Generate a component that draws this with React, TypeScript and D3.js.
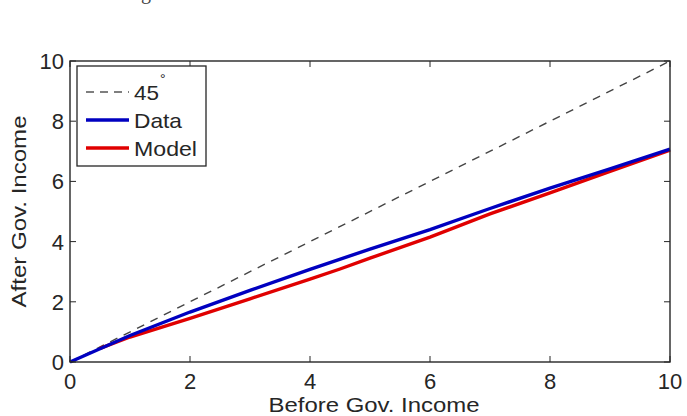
import React, { useEffect, useRef } from 'react';
import * as d3 from 'd3';

// Values
const dataX = [0, 1, 2, 3, 4, 5, 6, 7, 8, 9, 10];
const dataY = [0, 0.88, 1.66, 2.38, 3.08, 3.75, 4.4, 5.1, 5.78, 6.42, 7.07];
const modelX = [0.5, 1, 2, 3, 4, 4.5, 5, 6, 7, 8, 9, 10];
const modelY = [0.45, 0.83, 1.45, 2.1, 2.75, 3.09, 3.45, 4.15, 4.92, 5.62, 6.33, 7.04];
const diagX = [0, 10];
const xTicks = [0, 2, 4, 6, 8, 10];
const yTicks = [0, 2, 4, 6, 8, 10];
const legendItems = ['45', 'Data', 'Model'];

const App = () => {
    const ref = useRef<SVGSVGElement | null>(null);

    useEffect(() => {
        if (!ref.current) return;
        const svg = d3.select(ref.current);
        svg.selectAll('*').remove();

        const W = 687, H = 416;
        const left = 70, right = 670, top = 61, bottom = 362;
        const font = 'Liberation Sans, Arial, sans-serif';
        const ink = '#262626';

        const x = d3.scaleLinear().domain([0, 10]).range([left, right]);
        const y = d3.scaleLinear().domain([0, 10]).range([bottom, top]);

        svg.attr('width', W).attr('height', H);
        svg.append('rect').attr('width', W).attr('height', H).attr('fill', 'white');

        // clipped caption from the page above
        svg.append('text').attr('x', 141).attr('y', -1)
            .attr('font-family', 'Liberation Serif, serif').attr('font-size', 20)
            .attr('fill', '#444').text('g');

        const line = d3.line<[number, number]>().x(d => x(d[0])).y(d => y(d[1]));

        // 45 degree line
        svg.append('path')
            .datum(diagX.map(v => [v, v] as [number, number]))
            .attr('d', line).attr('fill', 'none')
            .attr('stroke', '#444').attr('stroke-width', 1.4).attr('stroke-dasharray', '8,7');

        svg.append('path')
            .datum(modelX.map((v, i) => [v, modelY[i]] as [number, number]))
            .attr('d', line).attr('fill', 'none')
            .attr('stroke', '#e00000').attr('stroke-width', 3.4);

        svg.append('path')
            .datum(dataX.map((v, i) => [v, dataY[i]] as [number, number]))
            .attr('d', line).attr('fill', 'none')
            .attr('stroke', '#0000c0').attr('stroke-width', 3.4);

        // frame and inward ticks on all sides
        svg.append('rect').attr('x', left).attr('y', top)
            .attr('width', right - left).attr('height', bottom - top)
            .attr('fill', 'none').attr('stroke', ink).attr('stroke-width', 1.4);

        const tl = 6;
        xTicks.forEach(t => {
            svg.append('line').attr('x1', x(t)).attr('x2', x(t)).attr('y1', bottom).attr('y2', bottom - tl)
                .attr('stroke', ink).attr('stroke-width', 1);
            svg.append('line').attr('x1', x(t)).attr('x2', x(t)).attr('y1', top).attr('y2', top + tl)
                .attr('stroke', ink).attr('stroke-width', 1);
            svg.append('text').attr('x', x(t)).attr('y', bottom + 27)
                .attr('text-anchor', 'middle').attr('font-family', font).attr('font-size', 22)
                .attr('fill', ink).text(t);
        });
        yTicks.forEach(t => {
            svg.append('line').attr('x1', left).attr('x2', left + tl).attr('y1', y(t)).attr('y2', y(t))
                .attr('stroke', ink).attr('stroke-width', 1);
            svg.append('line').attr('x1', right).attr('x2', right - tl).attr('y1', y(t)).attr('y2', y(t))
                .attr('stroke', ink).attr('stroke-width', 1);
            svg.append('text').attr('x', left - 6).attr('y', y(t)).attr('dy', '0.36em')
                .attr('text-anchor', 'end').attr('font-family', font).attr('font-size', 22)
                .attr('fill', ink).text(t);
        });

        svg.append('text').attr('x', (left + right) / 2 + 4).attr('y', 412)
            .attr('text-anchor', 'middle').attr('font-family', font).attr('font-size', 20)
            .attr('textLength', 211).attr('lengthAdjust', 'spacingAndGlyphs')
            .attr('fill', ink).text('Before Gov. Income');
        svg.append('text')
            .attr('transform', `translate(26,${(top + bottom) / 2}) rotate(-90)`)
            .attr('text-anchor', 'middle').attr('font-family', font).attr('font-size', 20)
            .attr('textLength', 192).attr('lengthAdjust', 'spacingAndGlyphs')
            .attr('fill', ink).text('After Gov. Income');

        // legend
        const lg = svg.append('g');
        lg.append('rect').attr('x', 77).attr('y', 66).attr('width', 129).attr('height', 100)
            .attr('fill', 'white').attr('stroke', ink).attr('stroke-width', 1.3);
        const styles = [
            { stroke: '#555', w: 1.4, dash: '8,6' },
            { stroke: '#0000c0', w: 3.4, dash: null },
            { stroke: '#e00000', w: 3.4, dash: null },
        ];
        legendItems.forEach((name, i) => {
            const cy = 92 + i * 28;
            lg.append('line').attr('x1', 86).attr('x2', 129).attr('y1', cy).attr('y2', cy)
                .attr('stroke', styles[i].stroke).attr('stroke-width', styles[i].w)
                .attr('stroke-dasharray', styles[i].dash);
            lg.append('text').attr('x', 134).attr('y', cy).attr('dy', '0.36em')
                .attr('font-family', font).attr('font-size', 21).attr('fill', ink)
                .attr('textLength', i === 0 ? 25 : i === 1 ? 48 : 63)
                .attr('lengthAdjust', 'spacingAndGlyphs').text(name);
            if (i === 0) {
                lg.append('text').attr('x', 160).attr('y', cy - 8)
                    .attr('font-family', font).attr('font-size', 14).attr('fill', ink).text('°');
            }
        });
    }, []);

    return <svg ref={ref} style={{ position: 'absolute', left: 0, top: 0, display: 'block' }} />;
};

export default App;
